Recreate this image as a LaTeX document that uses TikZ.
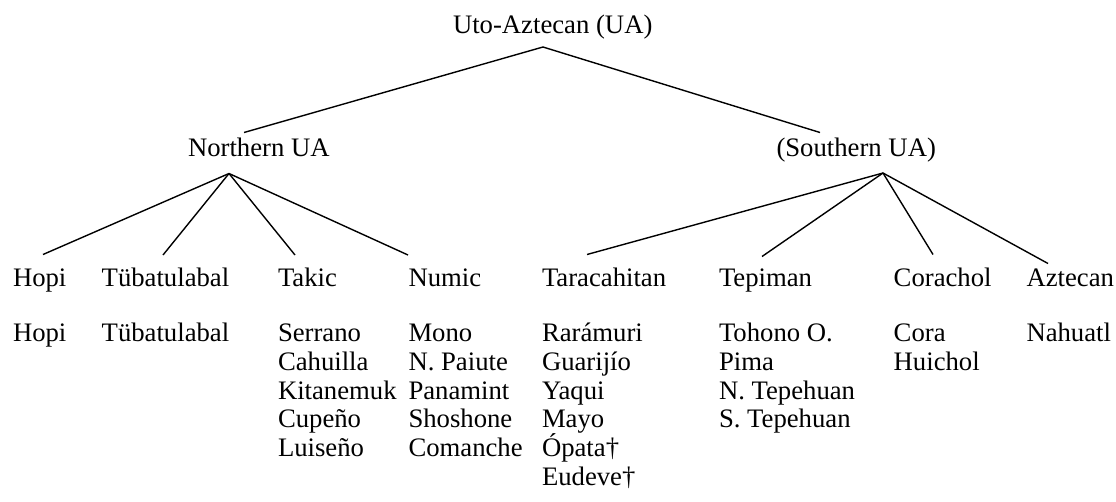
\documentclass[tikz,border=0pt]{standalone}
\usepackage{fontspec}
\setmainfont{Liberation Serif}
\begin{document}
\begin{tikzpicture}[x=1pt,y=-1pt,
  lbl/.style={inner sep=0pt, outer sep=0pt, anchor=base west, font=\fontsize{26.7}{28.7}\selectfont},
  edge/.style={line width=1.4pt, black}]
\useasboundingbox (0,0) rectangle (1116,501);
% top levels
\node[lbl] (ua)  at (453,33)    {Uto-Aztecan (UA)};
\node[lbl] (nua) at (188,156.7) {Northern UA};
\node[lbl] (sua) at (776.5,156.7) {(Southern UA)};
% branch headers
\node[lbl] (hopi)  at (13,286.7)    {Hopi};
\node[lbl] (tub)   at (101.7,286.7) {Tübatulabal};
\node[lbl] (takic) at (278,286.7)   {Takic};
\node[lbl] (numic) at (408.5,286.7) {Numic};
\node[lbl] (tara)  at (542,286.7)   {Taracahitan};
\node[lbl] (tepi)  at (719,286.7)   {Tepiman};
\node[lbl] (cora)  at (893.7,286.7) {Corachol};
\node[lbl] (azt)   at (1026.5,286.7) {Aztecan};
% languages
\foreach \t [count=\i] in {Hopi}
  \node[lbl] (hopi-\i) at (13,{341.7+(\i-1)*28.7}) {\t};
\foreach \t [count=\i] in {Tübatulabal}
  \node[lbl] (tub-\i) at (101.7,{341.7+(\i-1)*28.7}) {\t};
\foreach \t [count=\i] in {Serrano,Cahuilla,Kitanemuk,Cupeño,Luiseño}
  \node[lbl] (takic-\i) at (278,{341.7+(\i-1)*28.7}) {\t};
\foreach \t [count=\i] in {Mono,N. Paiute,Panamint,Shoshone,Comanche}
  \node[lbl] (numic-\i) at (408.5,{341.7+(\i-1)*28.7}) {\t};
\foreach \t [count=\i] in {Rarámuri,Guarijío,Yaqui,Mayo,Ópata†,Eudeve†}
  \node[lbl] (tara-\i) at (542,{341.7+(\i-1)*28.7}) {\t};
\foreach \t [count=\i] in {Tohono O.,Pima,N. Tepehuan,S. Tepehuan}
  \node[lbl] (tepi-\i) at (719,{341.7+(\i-1)*28.7}) {\t};
\foreach \t [count=\i] in {Cora,Huichol}
  \node[lbl] (cora-\i) at (893.7,{341.7+(\i-1)*28.7}) {\t};
\foreach \t [count=\i] in {Nahuatl}
  \node[lbl] (azt-\i) at (1026.5,{341.7+(\i-1)*28.7}) {\t};
% connector end points
\coordinate (ua-apex)  at (543,47);
\coordinate (nua-top)  at (244,132.5);
\coordinate (sua-top)  at (820,132.5);
\coordinate (nua-apex) at (229,173.5);
\coordinate (sua-apex) at (883,173);
\coordinate (hopi-top)  at (43,254.5);
\coordinate (tub-top)   at (163,255);
\coordinate (takic-top) at (295,255);
\coordinate (numic-top) at (408,255);
\coordinate (tara-top)  at (587,254.5);
\coordinate (tepi-top)  at (762,256.5);
\coordinate (cora-top)  at (933,254.5);
\coordinate (azt-top)   at (1048,263.5);
% connectors
\draw[edge] (nua-top) -- (ua-apex) -- (sua-top);
\foreach \b in {hopi,tub,takic,numic}
  \draw[edge] (nua-apex) -- (\b-top);
\foreach \b in {tara,tepi,cora,azt}
  \draw[edge] (sua-apex) -- (\b-top);
\end{tikzpicture}
\end{document}
